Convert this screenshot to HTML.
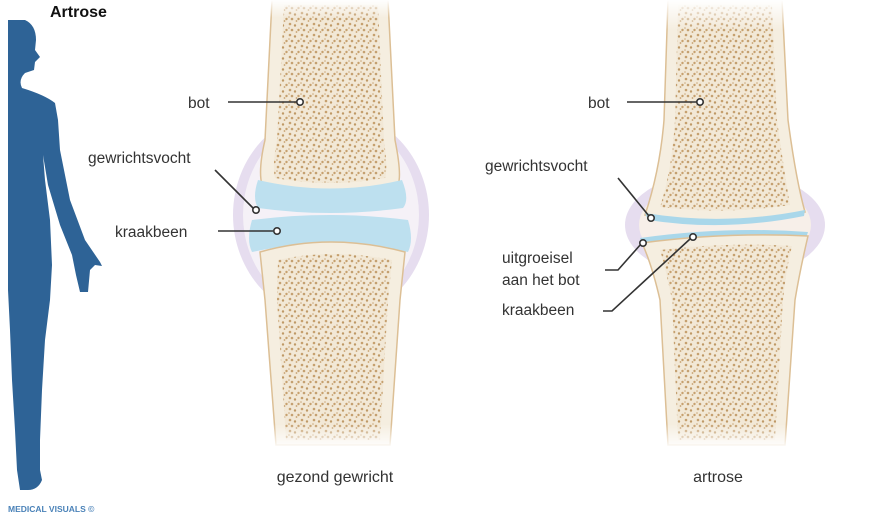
<!DOCTYPE html>
<html><head><meta charset="utf-8"><style>
html,body{margin:0;padding:0;background:#fff;width:890px;height:528px;overflow:hidden}
svg{display:block}
text{font-family:"Liberation Sans",sans-serif}
</style></head><body>
<svg width="890" height="528" viewBox="0 0 890 528" xmlns="http://www.w3.org/2000/svg">
<defs>
<pattern id="sp" width="12" height="11" patternUnits="userSpaceOnUse">
<rect width="12" height="11" fill="#f2e8d6"/>
<circle cx="2" cy="2" r="1.3" fill="#c6a06e"/><circle cx="7" cy="3.5" r="1.2" fill="#bf9966"/>
<circle cx="10.5" cy="8" r="1.2" fill="#c6a06e"/><circle cx="4" cy="8" r="1.3" fill="#c4a070"/>
<circle cx="8.5" cy="10" r="0.9" fill="#c6a06e"/><circle cx="1" cy="6" r="0.8" fill="#cba87c"/>
</pattern>
<linearGradient id="fadeT" x1="0" y1="0" x2="0" y2="1"><stop offset="0" stop-color="#fff" stop-opacity="1"/><stop offset="1" stop-color="#fff" stop-opacity="0"/></linearGradient>
</defs>
<text x="50" y="17" font-size="16" font-weight="bold" style="fill:#111">Artrose</text>
<path d="M8,20 L25,20 Q36,25 36,40 L35,50 L40,57 L35,62 L34,70 L25,73 Q18,80 22,88 Q45,95 55,103 L58,120 L60,150 L70,200 L85,240 L100,262 L102,266 L95,265 L90,270 L88,292 L80,292 L76,275 L72,255 L60,225 L48,185 L43,155 L45,180 L50,220 L52,265 L50,300 L45,340 L42,390 L40,440 L40,470 L42,480 Q38,490 28,490 L20,490 L17,470 L15,430 L12,380 L10,330 L8,290 Z" fill="#2e6396"/>
<text x="8" y="512" font-size="8.5" font-weight="bold" style="fill:#4a82b8">MEDICAL VISUALS ©</text>

<!-- healthy joint -->
<ellipse cx="331" cy="215" rx="98" ry="105" fill="#e6ddef"/>
<ellipse cx="331" cy="215" rx="88" ry="98" fill="#f5f1f7"/>
<path d="M272,0 L388,0 L395,140 Q402,175 398,185 Q330,200 262,185 Q258,170 265,140 Z" fill="#f5eee0" stroke="#dcbf95" stroke-width="1.5"/>
<path d="M284,5 L378,5 L384,140 Q388,170 385,178 Q330,188 275,178 Q272,165 277,140 Z" fill="url(#sp)"/>
<path d="M258,180 Q330,197 402,180 Q410,200 403,208 Q330,218 258,208 Q252,198 258,180 Z" fill="#bde0ef"/>
<path d="M252,220 Q330,210 408,220 Q414,240 408,252 Q330,235 252,252 Q246,240 252,220 Z" fill="#bde0ef"/>
<path d="M260,252 Q330,232 405,252 L400,300 L390,445 L276,445 L265,300 Z" fill="#f5eee0" stroke="#dcbf95" stroke-width="1.5"/>
<path d="M278,260 Q330,248 392,260 L388,300 L380,440 L286,440 L277,300 Z" fill="url(#sp)"/>

<!-- arthritis joint -->
<ellipse cx="725" cy="225" rx="100" ry="55" fill="#e6ddef"/>
<ellipse cx="725" cy="225" rx="86" ry="48" fill="#f7efe9"/>
<path d="M668,0 L782,0 L788,120 Q796,180 805,212 Q725,228 645,215 Q660,170 664,120 Z" fill="#f5eee0" stroke="#dcbf95" stroke-width="1.5"/>
<path d="M678,5 L772,5 L777,120 Q784,170 790,205 Q725,215 660,207 Q672,170 675,120 Z" fill="url(#sp)"/>
<path d="M645,213 Q725,226 805,210 L804,216 Q725,232 648,220 Z" fill="#a9d7ea"/>
<path d="M640,238 Q725,226 808,232 L806,238 Q725,234 642,244 Z" fill="#a9d7ea"/>
<path d="M642,243 Q725,232 808,236 Q800,270 795,300 L785,445 L668,445 L660,300 Q652,265 642,243 Z" fill="#f5eee0" stroke="#dcbf95" stroke-width="1.5"/>
<path d="M660,250 Q725,242 792,246 Q786,270 783,300 L775,440 L678,440 L672,300 Q666,270 660,250 Z" fill="url(#sp)"/>
<rect x="260" y="0" width="140" height="18" fill="url(#fadeT)"/>
<rect x="660" y="0" width="130" height="30" fill="url(#fadeT)"/>
<rect x="260" y="425" width="145" height="25" fill="url(#fadeT)" transform="rotate(180 332 437)"/>
<rect x="660" y="425" width="130" height="25" fill="url(#fadeT)" transform="rotate(180 725 437)"/>

<g stroke="#333" stroke-width="1.6" fill="none">
<line x1="228" y1="102" x2="297" y2="102"/>
<line x1="215" y1="170" x2="253" y2="208"/>
<line x1="218" y1="231" x2="273" y2="231"/>
<line x1="627" y1="102" x2="697" y2="102"/>
<line x1="618" y1="178" x2="649" y2="216"/>
<polyline points="605,270 618,270 641,244"/>
<polyline points="603,311 612,311 690,239"/>
</g>
<g fill="#fff" stroke="#333" stroke-width="1.6">
<circle cx="300" cy="102" r="3.2"/><circle cx="256" cy="210" r="3.2"/><circle cx="277" cy="231" r="3.2"/>
<circle cx="700" cy="102" r="3.2"/><circle cx="651" cy="218" r="3.2"/><circle cx="643" cy="243" r="3.2"/><circle cx="693" cy="237" r="3.2"/>
</g>
<g font-size="15.5" style="fill:#333">
<text x="188" y="108">bot</text>
<text x="88" y="163">gewrichtsvocht</text>
<text x="115" y="237">kraakbeen</text>
<text x="588" y="108">bot</text>
<text x="485" y="171">gewrichtsvocht</text>
<text x="502" y="263">uitgroeisel</text>
<text x="502" y="285">aan het bot</text>
<text x="502" y="315">kraakbeen</text>
<text x="335" y="482" text-anchor="middle" font-size="16">gezond gewricht</text>
<text x="718" y="482" text-anchor="middle" font-size="16">artrose</text>
</g>
</svg>
</body></html>
